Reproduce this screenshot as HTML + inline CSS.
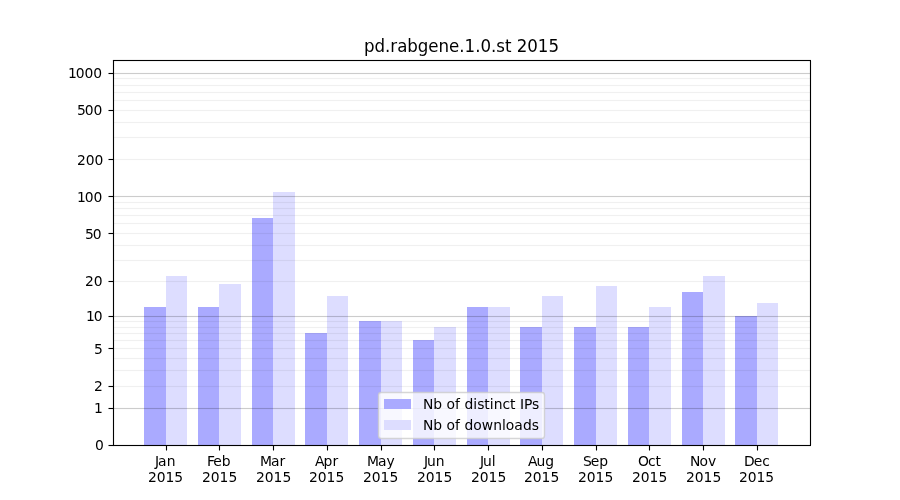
<!DOCTYPE html>
<html><head><meta charset="utf-8"><title>pd.rabgene.1.0.st 2015</title>
<style>html,body{margin:0;padding:0;background:#fff}svg{display:block}</style></head>
<body>
<svg width="900" height="500" viewBox="0 0 900 500" font-family="DejaVu Sans, Liberation Sans, sans-serif" font-size="13.889px" fill="#000">
<rect width="900" height="500" fill="#fff"/>
<g shape-rendering="crispEdges">
<rect x="144" y="307" width="22" height="138" fill="#aaaaff"/>
<rect x="166" y="276" width="21" height="169" fill="#ddddff"/>
<rect x="198" y="307" width="21" height="138" fill="#aaaaff"/>
<rect x="219" y="284" width="22" height="161" fill="#ddddff"/>
<rect x="252" y="218" width="21" height="227" fill="#aaaaff"/>
<rect x="273" y="192" width="22" height="253" fill="#ddddff"/>
<rect x="305" y="333" width="22" height="112" fill="#aaaaff"/>
<rect x="327" y="296" width="21" height="149" fill="#ddddff"/>
<rect x="359" y="321" width="22" height="124" fill="#aaaaff"/>
<rect x="381" y="321" width="21" height="124" fill="#ddddff"/>
<rect x="413" y="340" width="21" height="105" fill="#aaaaff"/>
<rect x="434" y="327" width="22" height="118" fill="#ddddff"/>
<rect x="467" y="307" width="21" height="138" fill="#aaaaff"/>
<rect x="488" y="307" width="22" height="138" fill="#ddddff"/>
<rect x="520" y="327" width="22" height="118" fill="#aaaaff"/>
<rect x="542" y="296" width="21" height="149" fill="#ddddff"/>
<rect x="574" y="327" width="22" height="118" fill="#aaaaff"/>
<rect x="596" y="286" width="21" height="159" fill="#ddddff"/>
<rect x="628" y="327" width="21" height="118" fill="#aaaaff"/>
<rect x="649" y="307" width="22" height="138" fill="#ddddff"/>
<rect x="682" y="292" width="21" height="153" fill="#aaaaff"/>
<rect x="703" y="276" width="22" height="169" fill="#ddddff"/>
<rect x="735" y="316" width="22" height="129" fill="#aaaaff"/>
<rect x="757" y="303" width="21" height="142" fill="#ddddff"/>
</g>
<g fill="#000" shape-rendering="crispEdges">
<rect x="112.5" y="386" width="697.5" height="1" fill-opacity="0.0600"/><rect x="112.5" y="385" width="697.5" height="1" fill-opacity="0.0033"/><rect x="112.5" y="387" width="697.5" height="1" fill-opacity="0.0033"/>
<rect x="112.5" y="370" width="697.5" height="1" fill-opacity="0.0600"/><rect x="112.5" y="369" width="697.5" height="1" fill-opacity="0.0033"/><rect x="112.5" y="371" width="697.5" height="1" fill-opacity="0.0033"/>
<rect x="112.5" y="358" width="697.5" height="1" fill-opacity="0.0600"/><rect x="112.5" y="357" width="697.5" height="1" fill-opacity="0.0033"/><rect x="112.5" y="359" width="697.5" height="1" fill-opacity="0.0033"/>
<rect x="112.5" y="348" width="697.5" height="1" fill-opacity="0.0600"/><rect x="112.5" y="347" width="697.5" height="1" fill-opacity="0.0033"/><rect x="112.5" y="349" width="697.5" height="1" fill-opacity="0.0033"/>
<rect x="112.5" y="340" width="697.5" height="1" fill-opacity="0.0600"/><rect x="112.5" y="339" width="697.5" height="1" fill-opacity="0.0033"/><rect x="112.5" y="341" width="697.5" height="1" fill-opacity="0.0033"/>
<rect x="112.5" y="333" width="697.5" height="1" fill-opacity="0.0600"/><rect x="112.5" y="332" width="697.5" height="1" fill-opacity="0.0033"/><rect x="112.5" y="334" width="697.5" height="1" fill-opacity="0.0033"/>
<rect x="112.5" y="327" width="697.5" height="1" fill-opacity="0.0600"/><rect x="112.5" y="326" width="697.5" height="1" fill-opacity="0.0033"/><rect x="112.5" y="328" width="697.5" height="1" fill-opacity="0.0033"/>
<rect x="112.5" y="321" width="697.5" height="1" fill-opacity="0.0600"/><rect x="112.5" y="320" width="697.5" height="1" fill-opacity="0.0033"/><rect x="112.5" y="322" width="697.5" height="1" fill-opacity="0.0033"/>
<rect x="112.5" y="281" width="697.5" height="1" fill-opacity="0.0600"/><rect x="112.5" y="280" width="697.5" height="1" fill-opacity="0.0033"/><rect x="112.5" y="282" width="697.5" height="1" fill-opacity="0.0033"/>
<rect x="112.5" y="260" width="697.5" height="1" fill-opacity="0.0600"/><rect x="112.5" y="259" width="697.5" height="1" fill-opacity="0.0033"/><rect x="112.5" y="261" width="697.5" height="1" fill-opacity="0.0033"/>
<rect x="112.5" y="245" width="697.5" height="1" fill-opacity="0.0600"/><rect x="112.5" y="244" width="697.5" height="1" fill-opacity="0.0033"/><rect x="112.5" y="246" width="697.5" height="1" fill-opacity="0.0033"/>
<rect x="112.5" y="233" width="697.5" height="1" fill-opacity="0.0600"/><rect x="112.5" y="232" width="697.5" height="1" fill-opacity="0.0033"/><rect x="112.5" y="234" width="697.5" height="1" fill-opacity="0.0033"/>
<rect x="112.5" y="223" width="697.5" height="1" fill-opacity="0.0600"/><rect x="112.5" y="222" width="697.5" height="1" fill-opacity="0.0033"/><rect x="112.5" y="224" width="697.5" height="1" fill-opacity="0.0033"/>
<rect x="112.5" y="215" width="697.5" height="1" fill-opacity="0.0600"/><rect x="112.5" y="214" width="697.5" height="1" fill-opacity="0.0033"/><rect x="112.5" y="216" width="697.5" height="1" fill-opacity="0.0033"/>
<rect x="112.5" y="208" width="697.5" height="1" fill-opacity="0.0600"/><rect x="112.5" y="207" width="697.5" height="1" fill-opacity="0.0033"/><rect x="112.5" y="209" width="697.5" height="1" fill-opacity="0.0033"/>
<rect x="112.5" y="202" width="697.5" height="1" fill-opacity="0.0600"/><rect x="112.5" y="201" width="697.5" height="1" fill-opacity="0.0033"/><rect x="112.5" y="203" width="697.5" height="1" fill-opacity="0.0033"/>
<rect x="112.5" y="159" width="697.5" height="1" fill-opacity="0.0600"/><rect x="112.5" y="158" width="697.5" height="1" fill-opacity="0.0033"/><rect x="112.5" y="160" width="697.5" height="1" fill-opacity="0.0033"/>
<rect x="112.5" y="137" width="697.5" height="1" fill-opacity="0.0600"/><rect x="112.5" y="136" width="697.5" height="1" fill-opacity="0.0033"/><rect x="112.5" y="138" width="697.5" height="1" fill-opacity="0.0033"/>
<rect x="112.5" y="122" width="697.5" height="1" fill-opacity="0.0600"/><rect x="112.5" y="121" width="697.5" height="1" fill-opacity="0.0033"/><rect x="112.5" y="123" width="697.5" height="1" fill-opacity="0.0033"/>
<rect x="112.5" y="110" width="697.5" height="1" fill-opacity="0.0600"/><rect x="112.5" y="109" width="697.5" height="1" fill-opacity="0.0033"/><rect x="112.5" y="111" width="697.5" height="1" fill-opacity="0.0033"/>
<rect x="112.5" y="100" width="697.5" height="1" fill-opacity="0.0600"/><rect x="112.5" y="99" width="697.5" height="1" fill-opacity="0.0033"/><rect x="112.5" y="101" width="697.5" height="1" fill-opacity="0.0033"/>
<rect x="112.5" y="92" width="697.5" height="1" fill-opacity="0.0600"/><rect x="112.5" y="91" width="697.5" height="1" fill-opacity="0.0033"/><rect x="112.5" y="93" width="697.5" height="1" fill-opacity="0.0033"/>
<rect x="112.5" y="85" width="697.5" height="1" fill-opacity="0.0600"/><rect x="112.5" y="84" width="697.5" height="1" fill-opacity="0.0033"/><rect x="112.5" y="86" width="697.5" height="1" fill-opacity="0.0033"/>
<rect x="112.5" y="78" width="697.5" height="1" fill-opacity="0.0600"/><rect x="112.5" y="77" width="697.5" height="1" fill-opacity="0.0033"/><rect x="112.5" y="79" width="697.5" height="1" fill-opacity="0.0033"/>
<rect x="112.5" y="408" width="697.5" height="1" fill-opacity="0.2000"/><rect x="112.5" y="407" width="697.5" height="1" fill-opacity="0.0111"/><rect x="112.5" y="409" width="697.5" height="1" fill-opacity="0.0111"/>
<rect x="112.5" y="316" width="697.5" height="1" fill-opacity="0.2000"/><rect x="112.5" y="315" width="697.5" height="1" fill-opacity="0.0111"/><rect x="112.5" y="317" width="697.5" height="1" fill-opacity="0.0111"/>
<rect x="112.5" y="196" width="697.5" height="1" fill-opacity="0.2000"/><rect x="112.5" y="195" width="697.5" height="1" fill-opacity="0.0111"/><rect x="112.5" y="197" width="697.5" height="1" fill-opacity="0.0111"/>
<rect x="112.5" y="73" width="697.5" height="1" fill-opacity="0.2000"/><rect x="112.5" y="72" width="697.5" height="1" fill-opacity="0.0111"/><rect x="112.5" y="74" width="697.5" height="1" fill-opacity="0.0111"/>
</g>
<g stroke="#000" stroke-width="1.111" fill="none">
<path d="M166.5 445.5V450.5"/>
<path d="M219.5 445.5V450.5"/>
<path d="M273.5 445.5V450.5"/>
<path d="M327.5 445.5V450.5"/>
<path d="M381.5 445.5V450.5"/>
<path d="M434.5 445.5V450.5"/>
<path d="M488.5 445.5V450.5"/>
<path d="M542.5 445.5V450.5"/>
<path d="M596.5 445.5V450.5"/>
<path d="M649.5 445.5V450.5"/>
<path d="M703.5 445.5V450.5"/>
<path d="M757.5 445.5V450.5"/>
</g><g fill="#000">
<rect x="108.5" y="445" width="5.0" height="1" fill-opacity="1.0000"/><rect x="108.5" y="444" width="5.0" height="1" fill-opacity="0.0556"/><rect x="108.5" y="446" width="5.0" height="1" fill-opacity="0.0556"/>
<rect x="108.5" y="408" width="5.0" height="1" fill-opacity="1.0000"/><rect x="108.5" y="407" width="5.0" height="1" fill-opacity="0.0556"/><rect x="108.5" y="409" width="5.0" height="1" fill-opacity="0.0556"/>
<rect x="108.5" y="386" width="5.0" height="1" fill-opacity="1.0000"/><rect x="108.5" y="385" width="5.0" height="1" fill-opacity="0.0556"/><rect x="108.5" y="387" width="5.0" height="1" fill-opacity="0.0556"/>
<rect x="108.5" y="348" width="5.0" height="1" fill-opacity="1.0000"/><rect x="108.5" y="347" width="5.0" height="1" fill-opacity="0.0556"/><rect x="108.5" y="349" width="5.0" height="1" fill-opacity="0.0556"/>
<rect x="108.5" y="316" width="5.0" height="1" fill-opacity="1.0000"/><rect x="108.5" y="315" width="5.0" height="1" fill-opacity="0.0556"/><rect x="108.5" y="317" width="5.0" height="1" fill-opacity="0.0556"/>
<rect x="108.5" y="281" width="5.0" height="1" fill-opacity="1.0000"/><rect x="108.5" y="280" width="5.0" height="1" fill-opacity="0.0556"/><rect x="108.5" y="282" width="5.0" height="1" fill-opacity="0.0556"/>
<rect x="108.5" y="233" width="5.0" height="1" fill-opacity="1.0000"/><rect x="108.5" y="232" width="5.0" height="1" fill-opacity="0.0556"/><rect x="108.5" y="234" width="5.0" height="1" fill-opacity="0.0556"/>
<rect x="108.5" y="196" width="5.0" height="1" fill-opacity="1.0000"/><rect x="108.5" y="195" width="5.0" height="1" fill-opacity="0.0556"/><rect x="108.5" y="197" width="5.0" height="1" fill-opacity="0.0556"/>
<rect x="108.5" y="159" width="5.0" height="1" fill-opacity="1.0000"/><rect x="108.5" y="158" width="5.0" height="1" fill-opacity="0.0556"/><rect x="108.5" y="160" width="5.0" height="1" fill-opacity="0.0556"/>
<rect x="108.5" y="110" width="5.0" height="1" fill-opacity="1.0000"/><rect x="108.5" y="109" width="5.0" height="1" fill-opacity="0.0556"/><rect x="108.5" y="111" width="5.0" height="1" fill-opacity="0.0556"/>
<rect x="108.5" y="73" width="5.0" height="1" fill-opacity="1.0000"/><rect x="108.5" y="72" width="5.0" height="1" fill-opacity="0.0556"/><rect x="108.5" y="74" width="5.0" height="1" fill-opacity="0.0556"/>
<rect x="112.9" y="60" width="698.1" height="1" fill-opacity="1.0000"/><rect x="112.9" y="59" width="698.1" height="1" fill-opacity="0.0556"/><rect x="112.9" y="61" width="698.1" height="1" fill-opacity="0.0556"/>
<rect x="112.9" y="445" width="698.1" height="1" fill-opacity="1.0000"/><rect x="112.9" y="444" width="698.1" height="1" fill-opacity="0.0556"/><rect x="112.9" y="446" width="698.1" height="1" fill-opacity="0.0556"/>
</g><g stroke="#000" stroke-width="1.111" fill="none">
<path d="M113.5 60.5V445.5M810.5 60.5V445.5"/>
</g>
<rect x="378.50" y="392.50" width="166.00" height="46.00" rx="2.78" fill="#fff" fill-opacity="0.8" stroke="#ccc" stroke-opacity="0.8" stroke-width="1.389"/>
<g shape-rendering="crispEdges">
<rect x="384" y="399" width="27" height="10" fill="#aaaaff"/>
<rect x="384" y="420" width="27" height="10" fill="#ddddff"/>
</g>
<text x="155.01 158.01 166.64" y="466">Jan</text>
<text x="147.89 156.64 165.39 174.26" y="482">2015</text>
<text x="207.12 213.37 221.87" y="466">Feb</text>
<text x="202.12 210.87 219.62 228.50" y="482">2015</text>
<text x="259.98 270.98 279.61" y="466">Mar</text>
<text x="256.11 264.86 273.61 282.48" y="482">2015</text>
<text x="315.10 323.60 332.47" y="466">Apr</text>
<text x="309.10 317.85 326.60 335.47" y="482">2015</text>
<text x="366.96 377.96 386.58" y="466">May</text>
<text x="363.08 371.83 380.58 389.46" y="482">2015</text>
<text x="423.88 426.88 435.63" y="466">Jun</text>
<text x="417.07 425.82 434.57 443.44" y="482">2015</text>
<text x="480.06 483.06 491.81" y="466">Jul</text>
<text x="471.06 479.81 488.56 497.43" y="482">2015</text>
<text x="528.04 536.54 545.29" y="466">Aug</text>
<text x="524.04 532.79 541.54 550.42" y="482">2015</text>
<text x="583.03 590.78 599.28" y="466">Sep</text>
<text x="578.03 586.78 595.53 604.40" y="482">2015</text>
<text x="638.08 647.95 655.58" y="466">Oct</text>
<text x="632.02 640.77 649.52 658.39" y="482">2015</text>
<text x="690.00 699.38 707.88" y="466">Nov</text>
<text x="686.00 694.75 703.50 712.38" y="482">2015</text>
<text x="744.11 753.86 762.36" y="466">Dec</text>
<text x="738.99 747.74 756.49 765.36" y="482">2015</text>
<text x="95.03" y="450">0</text>
<text x="93.91" y="413">1</text>
<text x="94.03" y="391">2</text>
<text x="94.03" y="354">5</text>
<text x="85.91 93.78" y="321">10</text>
<text x="85.03 93.78" y="286">20</text>
<text x="85.03 92.78" y="239">50</text>
<text x="76.91 84.78 93.53" y="202">100</text>
<text x="77.03 85.78 94.53" y="165">200</text>
<text x="77.03 84.78 93.53" y="115">500</text>
<text x="67.91 75.78 84.53 93.28" y="78">1000</text>
<text transform="translate(364.06 51.67) scale(1 1.020)" x="0.00 10.50 21.00 26.25 33.12 43.25 53.75 64.25 74.50 85.00 95.25 100.50 111.12 116.38 126.88 132.12 140.88 147.38 152.62 163.25 173.75 184.38" font-size="16.667px">pd.rabgene.1.0.st 2015</text>
<text x="422.99 433.37 442.24 446.62 455.12 460.12 464.49 473.37 477.24 484.37 489.87 493.74 502.49 510.12 515.62 519.99 523.99 532.12" y="409">Nb of distinct IPs</text>
<text x="422.99 433.37 442.24 446.62 455.12 460.12 464.49 473.37 481.87 493.24 501.99 505.87 514.37 522.99 531.87" y="430">Nb of downloads</text>
</svg>
</body></html>
